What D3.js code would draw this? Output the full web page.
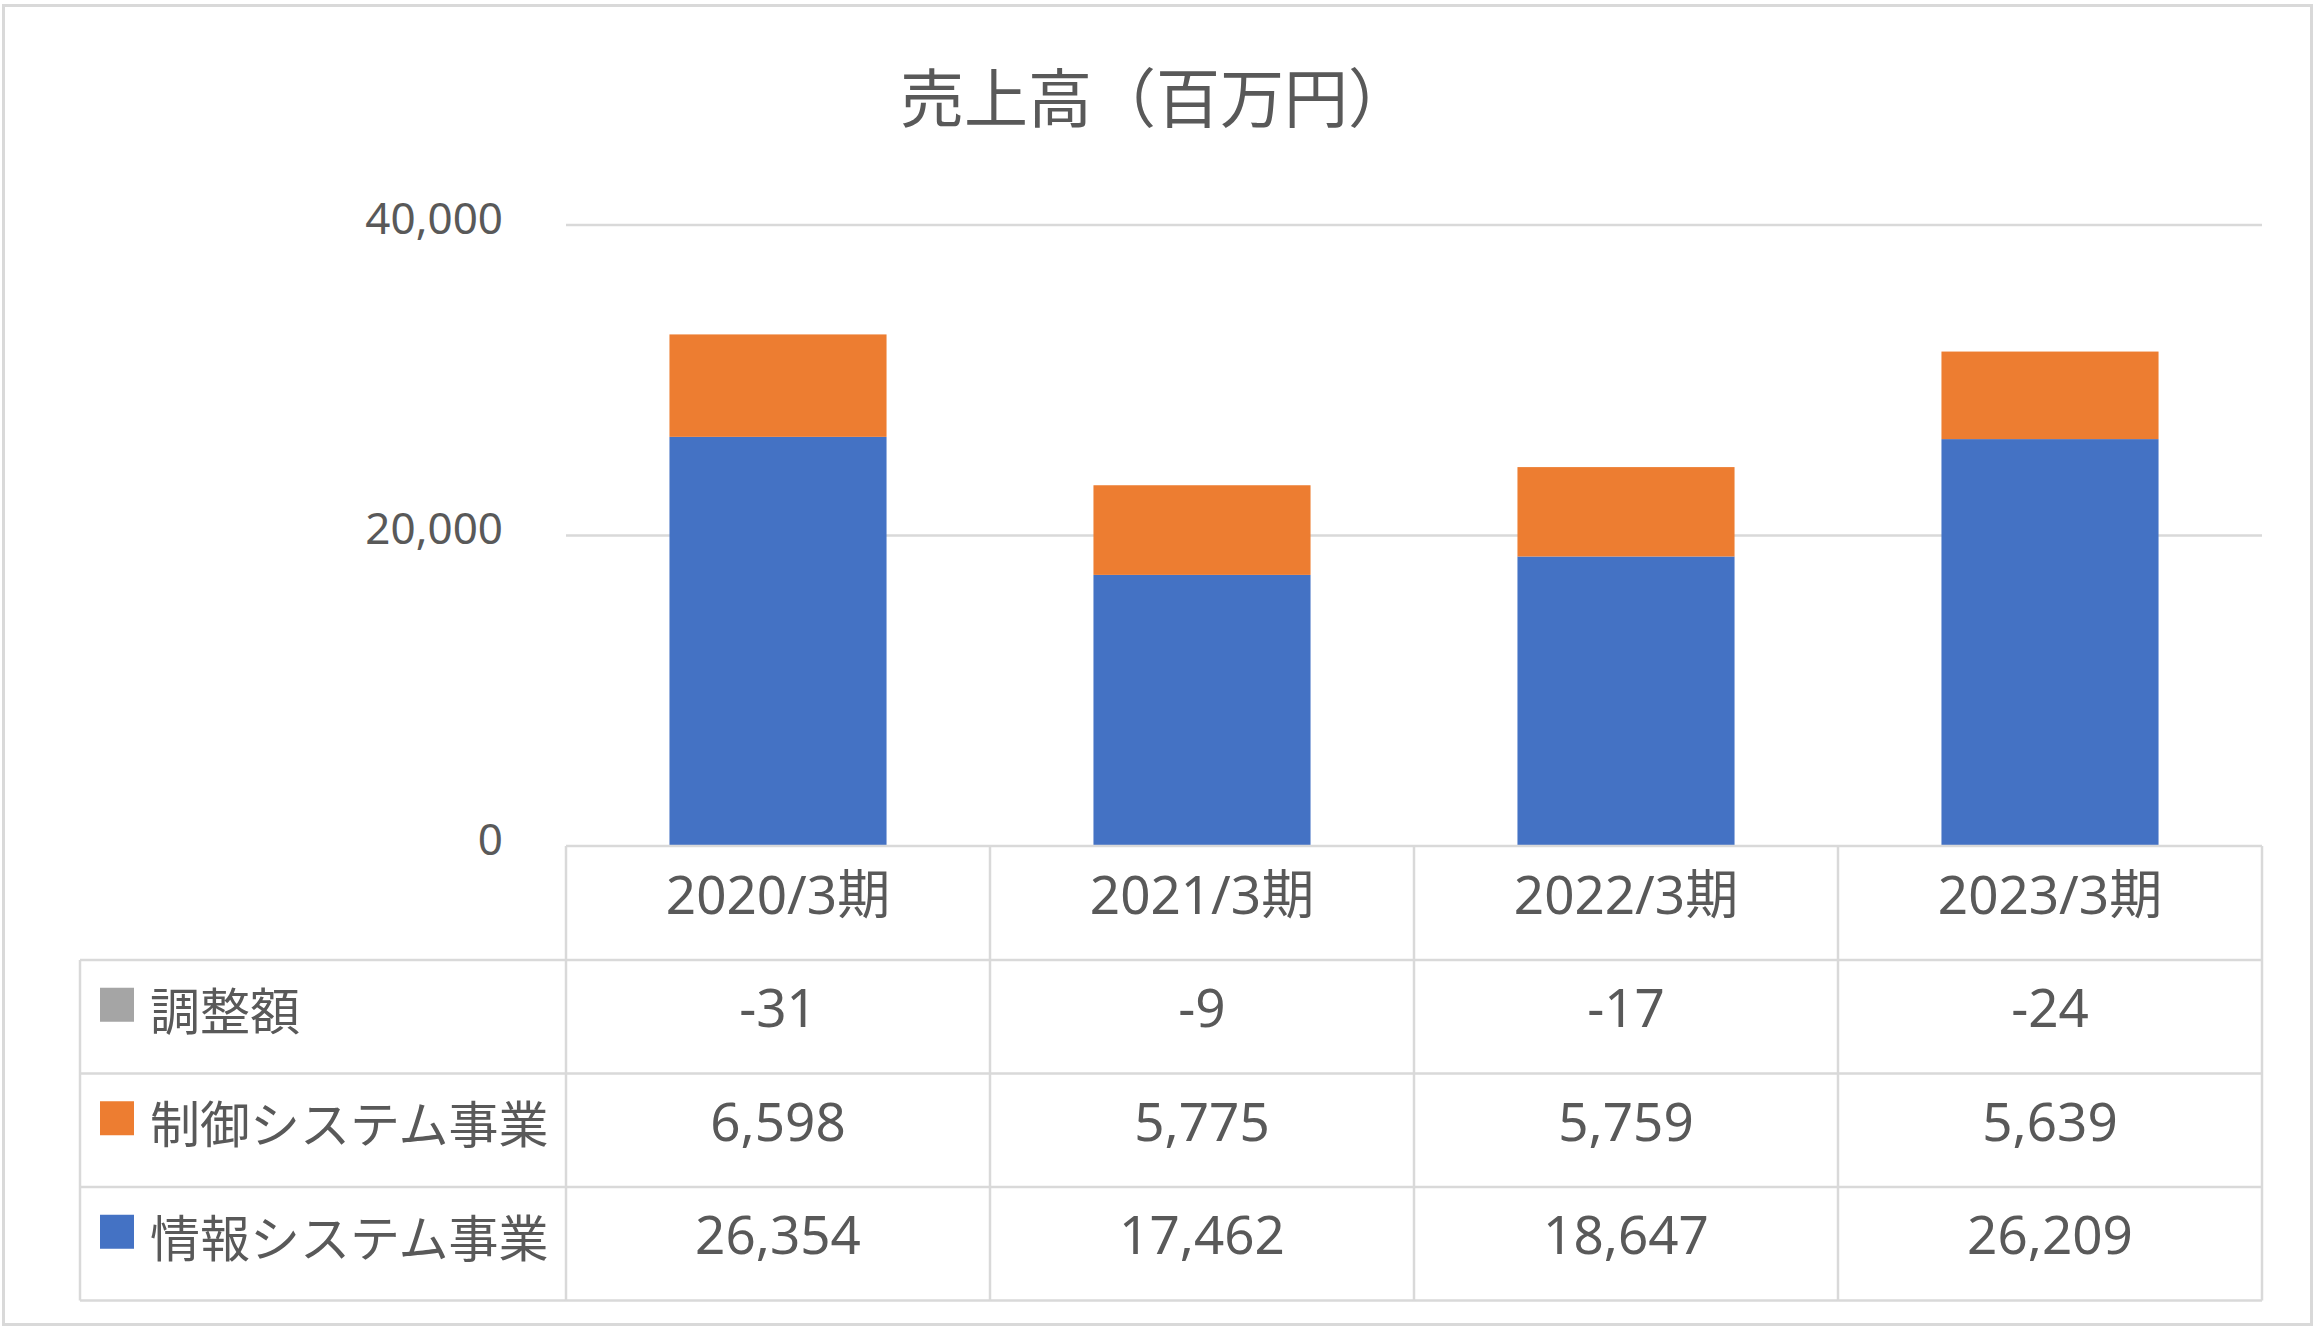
<!DOCTYPE html>
<html>
<head>
<meta charset="utf-8">
<script src="https://cdn.jsdelivr.net/npm/d3@7"></script>
<style>
  html, body { margin: 0; padding: 0; background: #fff; }
  svg { display: block; }
  text { font-family: "Noto Sans", "Noto Sans CJK JP", sans-serif; fill: #595959; }
</style>
</head>
<body>
<svg id="chart" width="2319" height="1333"></svg>
<script>
// ---- data ----
const title = "売上高（百万円）";
const categories = ["2020/3期", "2021/3期", "2022/3期", "2023/3期"];
const seriesNames = ["情報システム事業", "制御システム事業", "調整額"];
const infoSystem = [26354, 17462, 18647, 26209];
const controlSystem = [6598, 5775, 5759, 5639];
const adjustment = [-31, -9, -17, -24];
const yTicks = [0, 20000, 40000];
const seriesColors = ["#4472C4", "#ED7D31", "#A5A5A5"];
const tableRowOrder = ["調整額", "制御システム事業", "情報システム事業"];

// ---- layout ----
const svg = d3.select("#chart");
const plotL = 566, plotR = 2262, plotT = 225, plotB = 846;
const tableL = 80;
const headerBottom = 960;
const rowH = 113.5;
const gridColor = "#d9d9d9";
const locale = d3.formatLocale({ decimal: ".", thousands: ",", grouping: [3], currency: ["", ""], minus: "-" });
const fmt = locale.format(",");

// outer border
svg.append("rect")
  .attr("x", 3.5).attr("y", 5.5).attr("width", 2308).attr("height", 1319)
  .attr("fill", "#fff").attr("stroke", gridColor).attr("stroke-width", 3);

// title
svg.append("text")
  .attr("x", 1156).attr("y", 94)
  .attr("text-anchor", "middle").attr("dominant-baseline", "central")
  .style("font-family", '"Noto Sans CJK JP", sans-serif')
  .style("font-size", "64px")
  .text(title);

// scales
const x = d3.scaleBand().domain(categories).range([plotL, plotR])
  .paddingInner(0.488).paddingOuter(0.244);
const y = d3.scaleLinear().domain([0, 40000]).range([plotB, plotT]);

// gridlines
svg.append("g").selectAll("line")
  .data(yTicks.filter(t => t !== 0))
  .join("line")
  .attr("x1", plotL).attr("x2", plotR)
  .attr("y1", d => y(d)).attr("y2", d => y(d))
  .attr("stroke", gridColor).attr("stroke-width", 2.5);

// y axis labels
const yAxis = d3.axisLeft(y).tickValues(yTicks).tickFormat(fmt).tickSize(0).tickPadding(63);
const gy = svg.append("g").attr("transform", `translate(${plotL},0)`).call(yAxis);
gy.select(".domain").remove();
gy.selectAll("text")
  .attr("dy", null)
  .attr("y", -9)
  .attr("dominant-baseline", "central")
  .style("font-size", "44px")
  .style("font-family", '"Noto Sans", sans-serif')
  .attr("fill", "#595959");

// stacked bars
const rows = categories.map((c, i) => ({
  cat: c,
  "情報システム事業": infoSystem[i],
  "制御システム事業": controlSystem[i],
  "調整額": adjustment[i]
}));
const stack = d3.stack().keys(seriesNames).offset(d3.stackOffsetDiverging);
const stacked = stack(rows);
const color = d3.scaleOrdinal().domain(seriesNames).range(seriesColors);

svg.append("g").selectAll("g")
  .data(stacked)
  .join("g")
  .attr("fill", d => color(d.key))
  .selectAll("rect")
  .data(d => d)
  .join("rect")
  .attr("x", d => x(d.data.cat))
  .attr("width", x.bandwidth())
  .attr("y", d => y(Math.max(d[0], d[1])))
  .attr("height", d => Math.abs(y(d[0]) - y(d[1])));

// ---- data table ----
const half = (x.step() - x.bandwidth()) / 2;
const colEdges = categories.map(c => x(c) - half).concat([plotR]);
const rowEdges = [headerBottom];
tableRowOrder.forEach((r, i) => rowEdges.push(headerBottom + rowH * (i + 1)));
const tableBottom = rowEdges[rowEdges.length - 1];

const tg = svg.append("g").attr("stroke", gridColor).attr("stroke-width", 2.5);
tg.append("line").attr("x1", plotL).attr("x2", plotR).attr("y1", plotB).attr("y2", plotB);
rowEdges.forEach(yy => {
  tg.append("line").attr("x1", tableL).attr("x2", plotR).attr("y1", yy).attr("y2", yy);
});
colEdges.forEach(xx => {
  tg.append("line").attr("x1", xx).attr("x2", xx).attr("y1", plotB).attr("y2", tableBottom);
});
tg.append("line").attr("x1", tableL).attr("x2", tableL).attr("y1", headerBottom).attr("y2", tableBottom);

// header labels
svg.append("g").selectAll("text")
  .data(categories)
  .join("text")
  .attr("x", d => x(d) + x.bandwidth() / 2)
  .attr("y", (plotB + headerBottom) / 2 - 10)
  .attr("text-anchor", "middle").attr("dominant-baseline", "central")
  .style("font-size", "53px")
  .text(d => d);

const valuesBySeries = {
  "情報システム事業": infoSystem,
  "制御システム事業": controlSystem,
  "調整額": adjustment
};

tableRowOrder.forEach((name, ri) => {
  const cy = rowEdges[ri] + rowH / 2;
  svg.append("rect")
    .attr("x", 100).attr("y", cy - 12 - 17)
    .attr("width", 34).attr("height", 34)
    .attr("fill", color(name));
  svg.append("text")
    .attr("x", 150).attr("y", cy - 9)
    .attr("dominant-baseline", "central")
    .style("font-family", '"Noto Sans CJK JP", sans-serif')
    .style("font-size", "50px")
    .text(name);
  svg.append("g").selectAll("text")
    .data(categories)
    .join("text")
    .attr("x", d => x(d) + x.bandwidth() / 2)
    .attr("y", cy - 10)
    .attr("text-anchor", "middle").attr("dominant-baseline", "central")
    .style("font-size", "53px")
    .text((d, i) => fmt(valuesBySeries[name][i]));
});
</script>
</body>
</html>
